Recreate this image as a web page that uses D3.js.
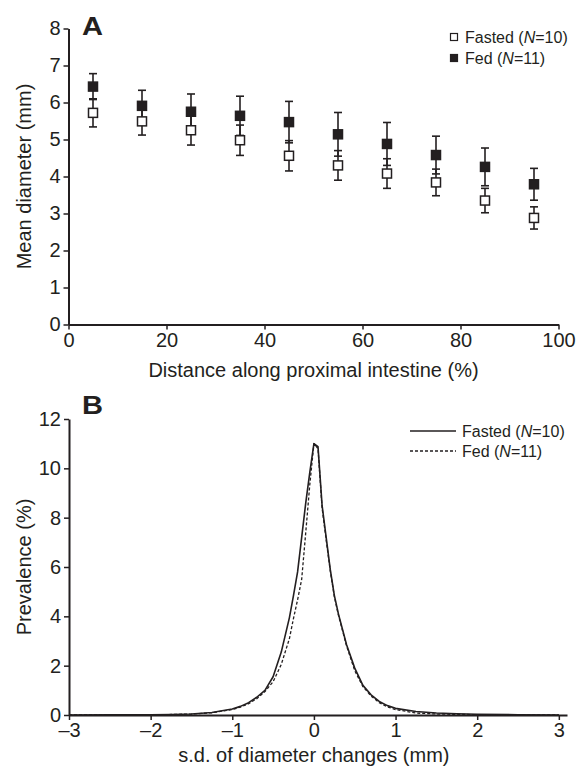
<!DOCTYPE html>
<html>
<head>
<meta charset="utf-8">
<script src="https://cdn.jsdelivr.net/npm/d3@7"></script>
<style>
  body { margin: 0; background: #fff; }
  svg text { font-family: "Liberation Sans", Arial, sans-serif; fill: #231f20; }
</style>
</head>
<body>
<div id="chart-area"></div>
<script>
const WIDTH = 579
const HEIGHT = 770

// panel A: mean diameter along the intestine
const distance = [5, 15, 25, 35, 45, 55, 65, 75, 85, 95]
const fastedMean = [5.72, 5.49, 5.25, 4.98, 4.56, 4.30, 4.08, 3.84, 3.35, 2.88]
const fastedSE = [0.38, 0.37, 0.40, 0.41, 0.41, 0.40, 0.40, 0.36, 0.33, 0.30]
const fedMean = [6.43, 5.91, 5.75, 5.64, 5.47, 5.14, 4.88, 4.58, 4.26, 3.79]
const fedSE = [0.35, 0.42, 0.48, 0.53, 0.56, 0.59, 0.58, 0.51, 0.51, 0.43]
const xTicksA = [0, 20, 40, 60, 80, 100]
const yTicksA = [0, 1, 2, 3, 4, 5, 6, 7, 8]

// panel B: distribution of s.d. of diameter changes
const sdBins = [-3, -2.5, -2, -1.75, -1.5, -1.25, -1, -0.9, -0.8, -0.7, -0.6, -0.5, -0.4, -0.3, -0.25, -0.2, -0.15, -0.1, -0.05,
  0, 0.05, 0.1, 0.15, 0.2, 0.25, 0.3, 0.4, 0.5, 0.6, 0.7, 0.8, 0.9, 1, 1.25, 1.5, 1.75, 2, 2.5, 3]
const fastedPrev = [0, 0.005, 0.01, 0.02, 0.04, 0.1, 0.24, 0.35, 0.5, 0.72, 1.0, 1.55, 2.55, 3.95, 4.85, 5.8, 7.2, 8.6, 9.85,
  11.0, 10.88, 8.5, 7.2, 5.9, 4.85, 4.1, 2.85, 1.9, 1.2, 0.82, 0.55, 0.38, 0.27, 0.14, 0.08, 0.05, 0.03, 0.01, 0]
const fedPrev = [0, 0.005, 0.01, 0.02, 0.04, 0.09, 0.22, 0.32, 0.46, 0.66, 0.95, 1.35, 2.05, 3.1, 3.92, 4.67, 5.5, 7.4, 9.36,
  11.0, 10.8, 8.4, 7.1, 5.85, 4.8, 4.05, 2.8, 1.8, 1.15, 0.77, 0.5, 0.33, 0.22, 0.08, 0.04, 0.025, 0.015, 0.005, 0]
const xTicksB = [-3, -2, -1, 0, 1, 2, 3]
const yTicksB = [0, 2, 4, 6, 8, 10, 12]

const INK = "#231f20"
const TICK_FONT = 20

const svg = d3.select("#chart-area").append("svg")
  .attr("width", WIDTH)
  .attr("height", HEIGHT)

// ---------- panel A ----------
const xA = d3.scaleLinear().domain([0, 100]).range([68.5, 558.5])
const yA = d3.scaleLinear().domain([0, 8]).range([324.5, 28.5])

const styleAxis = g => {
  g.select(".domain").attr("stroke", INK).attr("stroke-width", 2)
  g.selectAll(".tick line").attr("stroke", INK).attr("stroke-width", 1.5)
  g.selectAll(".tick text").attr("font-size", TICK_FONT).attr("fill", INK)
}

svg.append("g")
  .attr("transform", `translate(0,${yA(0)})`)
  .call(d3.axisBottom(xA).tickValues(xTicksA).tickSize(5).tickSizeOuter(0).tickPadding(3))
  .call(styleAxis)

svg.append("g")
  .attr("transform", `translate(${xA(0)},0)`)
  .call(d3.axisLeft(yA).tickValues(yTicksA).tickSize(5).tickSizeOuter(0).tickPadding(3))
  .call(styleAxis)

const seriesA = [
  { name: "Fasted", mean: fastedMean, se: fastedSE, fill: "#fff" },
  { name: "Fed", mean: fedMean, se: fedSE, fill: INK }
]

const CAP = 4
const MARK = 9

seriesA.forEach(s => {
  const pts = distance.map((d, i) => ({ x: d, m: s.mean[i], e: s.se[i] }))
  const g = svg.append("g").attr("stroke", INK).attr("stroke-width", 1.6)
  g.selectAll("line.bar").data(pts).join("line")
    .attr("x1", d => xA(d.x)).attr("x2", d => xA(d.x))
    .attr("y1", d => yA(d.m - d.e)).attr("y2", d => yA(d.m + d.e))
  g.selectAll("line.capHi").data(pts).join("line")
    .attr("x1", d => xA(d.x) - CAP).attr("x2", d => xA(d.x) + CAP)
    .attr("y1", d => yA(d.m + d.e)).attr("y2", d => yA(d.m + d.e))
  g.selectAll("line.capLo").data(pts).join("line")
    .attr("x1", d => xA(d.x) - CAP).attr("x2", d => xA(d.x) + CAP)
    .attr("y1", d => yA(d.m - d.e)).attr("y2", d => yA(d.m - d.e))
})

seriesA.forEach(s => {
  svg.append("g").selectAll("rect").data(distance.map((d, i) => [d, s.mean[i]])).join("rect")
    .attr("x", d => xA(d[0]) - MARK / 2)
    .attr("y", d => yA(d[1]) - MARK / 2)
    .attr("width", MARK).attr("height", MARK)
    .attr("fill", s.fill).attr("stroke", INK).attr("stroke-width", 1.5)
})

svg.append("text").attr("x", 82).attr("y", 35)
  .attr("font-size", 25).attr("font-weight", "bold")
  .attr("textLength", 21).attr("lengthAdjust", "spacingAndGlyphs").text("A")

svg.append("text")
  .attr("transform", `translate(31,${(yA(0) + yA(8)) / 2}) rotate(-90)`)
  .attr("text-anchor", "middle").attr("font-size", TICK_FONT)
  .text("Mean diameter (mm)")

svg.append("text").attr("x", (xA(0) + xA(100)) / 2).attr("y", 377)
  .attr("text-anchor", "middle").attr("font-size", TICK_FONT)
  .text("Distance along proximal intestine (%)")

const legendA = svg.append("g").attr("transform", "translate(454,37)")
seriesA.forEach((s, i) => {
  const row = legendA.append("g").attr("transform", `translate(0,${i * 21})`)
  row.append("rect").attr("x", -3.5).attr("y", -3.5).attr("width", 7).attr("height", 7)
    .attr("fill", s.fill).attr("stroke", INK).attr("stroke-width", 1.2)
  const t = row.append("text").attr("x", 11).attr("y", 5.5).attr("font-size", 16)
  t.append("tspan").text(`${s.name} (`)
  t.append("tspan").attr("font-style", "italic").text("N")
  t.append("tspan").text(i === 0 ? "=10)" : "=11)")
})

// ---------- panel B ----------
const xB = d3.scaleLinear().domain([-3, 3.1]).range([69, 567])
const yB = d3.scaleLinear().domain([0, 12]).range([715, 419])

svg.append("g")
  .attr("transform", `translate(0,${yB(0)})`)
  .call(d3.axisBottom(xB).tickValues(xTicksB).tickSize(5).tickSizeOuter(0).tickPadding(3)
    .tickFormat(d => d < 0 ? "\u2013" + Math.abs(d) : d))
  .call(styleAxis)

svg.append("g")
  .attr("transform", `translate(${xB(-3)},0)`)
  .call(d3.axisLeft(yB).tickValues(yTicksB).tickSize(5).tickSizeOuter(0).tickPadding(3))
  .call(styleAxis)

const line = ys => d3.line()
  .x((d, i) => xB(sdBins[i]))
  .y(d => yB(d))
  .curve(d3.curveLinear)(ys)

const seriesB = [
  { name: "Fasted", n: "=10)", vals: fastedPrev, dash: null, width: 1.6 },
  { name: "Fed", n: "=11)", vals: fedPrev, dash: "3,2", width: 1.3 }
]

seriesB.forEach(s => {
  svg.append("path")
    .attr("fill", "none")
    .attr("stroke", INK)
    .attr("stroke-width", s.width)
    .attr("stroke-dasharray", s.dash)
    .attr("stroke-linejoin", "round")
    .attr("d", line(s.vals))
})

svg.append("text").attr("x", 82).attr("y", 414)
  .attr("font-size", 25).attr("font-weight", "bold")
  .attr("textLength", 21).attr("lengthAdjust", "spacingAndGlyphs").text("B")

svg.append("text")
  .attr("transform", `translate(31,${(yB(0) + yB(12)) / 2}) rotate(-90)`)
  .attr("text-anchor", "middle").attr("font-size", TICK_FONT)
  .text("Prevalence (%)")

svg.append("text").attr("x", xB(0)).attr("y", 762)
  .attr("text-anchor", "middle").attr("font-size", TICK_FONT)
  .text("s.d. of diameter changes (mm)")

const legendB = svg.append("g").attr("transform", "translate(410,431)")
seriesB.forEach((s, i) => {
  const row = legendB.append("g").attr("transform", `translate(0,${i * 20})`)
  row.append("line").attr("x1", 0).attr("x2", 46).attr("y1", 0).attr("y2", 0)
    .attr("stroke", INK).attr("stroke-width", s.width).attr("stroke-dasharray", s.dash)
  const t = row.append("text").attr("x", 52).attr("y", 5.5).attr("font-size", 16)
  t.append("tspan").text(`${s.name} (`)
  t.append("tspan").attr("font-style", "italic").text("N")
  t.append("tspan").text(s.n)
})
</script>
</body>
</html>
